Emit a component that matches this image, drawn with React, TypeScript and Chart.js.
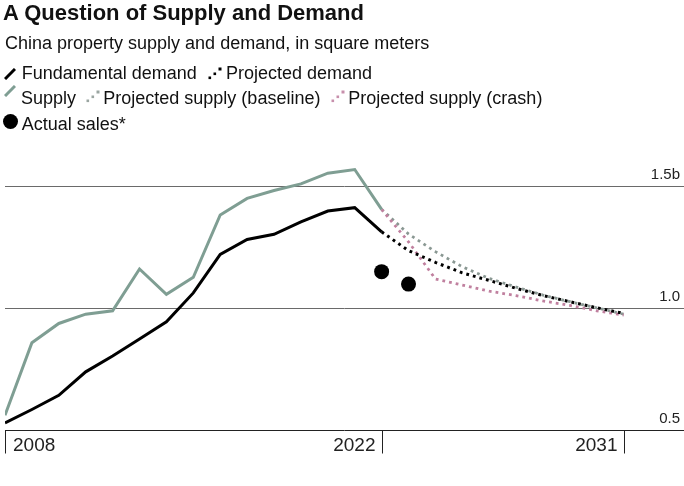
import React, { useEffect, useRef } from "react";
import { Chart, registerables } from "chart.js";

Chart.register(...registerables);

// ---- data ----
const histYears = [2008, 2009, 2010, 2011, 2012, 2013, 2014, 2015, 2016, 2017, 2018, 2019, 2020, 2021, 2022];
const supply = [0.56, 0.857, 0.936, 0.974, 0.988, 1.159, 1.055, 1.125, 1.38, 1.448, 1.48, 1.507, 1.551, 1.566, 1.403];
const demand = [0.529, 0.584, 0.642, 0.738, 0.803, 0.872, 0.943, 1.061, 1.219, 1.28, 1.301, 1.352, 1.396, 1.41, 1.311];

const projYears = [2022, 2023, 2024, 2025, 2026, 2027, 2028, 2029, 2030, 2031];
const projDemand = [1.311, 1.234, 1.186, 1.143, 1.112, 1.08, 1.05, 1.025, 1.0, 0.977];
const projSupplyBaseline = [1.403, 1.302, 1.23, 1.168, 1.12, 1.085, 1.052, 1.025, 1.0, 0.974];
const projSupplyCrash = [1.403, 1.27, 1.118, 1.093, 1.068, 1.05, 1.028, 1.01, 0.988, 0.97];

const salesYears = [2022, 2023];
const actualSales = [1.148, 1.097];

const yGridValues = [0.5, 1.0, 1.5];
const yTickLabels = ["0.5", "1.0", "1.5b"];
const xTickYears = [2008, 2022, 2031];
const xTickLabels = ["2008", "2022", "2031"];

const FONT = '"Liberation Sans", Arial, Helvetica, sans-serif';

const pts = (xs: number[], ys: number[]) => xs.map((x, i) => ({ x, y: ys[i] }));

const axesPlugin = {
  id: "customAxes",
  beforeDatasetsDraw(chart: any) {
    const { ctx, chartArea, scales } = chart;
    const x = scales.x;
    const y = scales.y;
    ctx.save();
    yGridValues.forEach((v, i) => {
      const py = Math.round(y.getPixelForValue(v)) + 0.5;
      ctx.strokeStyle = i === 0 ? "#222" : "#6a6a6a";
      ctx.lineWidth = 1;
      ctx.beginPath();
      ctx.moveTo(chartArea.left, py);
      ctx.lineTo(chartArea.right, py);
      ctx.stroke();
      ctx.font = `15px ${FONT}`;
      ctx.fillStyle = "#222";
      ctx.textAlign = "right";
      ctx.textBaseline = "alphabetic";
      ctx.fillText(yTickLabels[i], chartArea.right - 4, py - 7.5);
    });
    const base = Math.round(y.getPixelForValue(yGridValues[0])) + 0.5;
    xTickYears.forEach((yr, i) => {
      const px = Math.round(x.getPixelForValue(yr)) + 0.5;
      ctx.strokeStyle = "#222";
      ctx.lineWidth = 1;
      ctx.beginPath();
      ctx.moveTo(px, base);
      ctx.lineTo(px, base + 23);
      ctx.stroke();
      ctx.font = `19px ${FONT}`;
      ctx.fillStyle = "#222";
      ctx.textBaseline = "alphabetic";
      if (i === 0) {
        ctx.textAlign = "left";
        ctx.fillText(xTickLabels[i], px + 7.5, base + 20.5);
      } else {
        ctx.textAlign = "right";
        ctx.fillText(xTickLabels[i], px - 7, base + 20.5);
      }
    });
    ctx.restore();
  },
};

const DOT_DASH = [2.8, 4];

function SolidIcon({ color }: { color: string }) {
  return (
    <svg width="12" height="12" style={{ display: "block" }}>
      <line x1="1" y1="11" x2="11" y2="1" stroke={color} strokeWidth="3" />
    </svg>
  );
}

function DotIcon({ color }: { color: string }) {
  return (
    <svg width="14" height="13" style={{ display: "block" }}>
      <rect x="0.5" y="9.5" width="2.6" height="2.6" fill={color} />
      <rect x="5.5" y="5.5" width="2.6" height="2.6" fill={color} />
      <rect x="10.5" y="0.5" width="3" height="3" fill={color} />
    </svg>
  );
}

const textStyle = (left: number, top: number, size = 18, weight: any = "normal"): React.CSSProperties => ({
  position: "absolute",
  left,
  top,
  fontSize: size,
  lineHeight: `${size}px`,
  fontWeight: weight,
  color: "#111",
  whiteSpace: "nowrap",
  fontFamily: FONT,
});

export default function App() {
  const ref = useRef<HTMLCanvasElement>(null);

  useEffect(() => {
    if (!ref.current) return;
    const chart = new Chart(ref.current, {
      type: "line",
      data: {
        datasets: [
          {
            label: "Actual sales*",
            data: pts(salesYears, actualSales),
            showLine: false,
            pointRadius: 7.5,
            pointHoverRadius: 7.5,
            pointBackgroundColor: "#000",
            pointBorderWidth: 0,
            borderColor: "#000",
            order: 0,
          },
          {
            label: "Fundamental demand",
            data: pts(histYears, demand),
            borderColor: "#000",
            borderWidth: 3,
            pointRadius: 0,
            order: 1,
          },
          {
            label: "Projected demand",
            data: pts(projYears, projDemand),
            borderColor: "#000",
            borderWidth: 3,
            borderDash: DOT_DASH,
            borderCapStyle: "butt",
            pointRadius: 0,
            order: 2,
          },
          {
            label: "Supply",
            data: pts(histYears, supply),
            borderColor: "#7f9e93",
            borderWidth: 3,
            pointRadius: 0,
            order: 3,
          },
          {
            label: "Projected supply (crash)",
            data: pts(projYears, projSupplyCrash),
            borderColor: "#c0809f",
            borderWidth: 2.8,
            borderDash: DOT_DASH,
            borderCapStyle: "butt",
            pointRadius: 0,
            order: 4,
          },
          {
            label: "Projected supply (baseline)",
            data: pts(projYears, projSupplyBaseline),
            borderColor: "#8a9893",
            borderWidth: 2.8,
            borderDash: DOT_DASH,
            borderCapStyle: "butt",
            pointRadius: 0,
            order: 5,
          },
        ],
      },
      options: {
        animation: false,
        responsive: false,
        events: [],
        layout: { autoPadding: false, padding: { left: 5, right: 0, top: 149, bottom: 56 } },
        plugins: {
          legend: { display: false },
          tooltip: { enabled: false },
          title: { display: false },
        },
        elements: { line: { tension: 0 } },
        scales: {
          x: { type: "linear", min: 2008, max: 2033.24, display: false },
          y: { type: "linear", min: 0.5, max: 1.65, display: false },
        },
      },
      plugins: [axesPlugin],
    } as any);
    return () => chart.destroy();
  }, []);

  return (
    <div
      style={{
        position: "absolute",
        left: 0,
        top: 0,
        width: 684,
        height: 486,
        background: "#fff",
        overflow: "hidden",
        fontFamily: FONT,
      }}
    >
      <canvas
        ref={ref}
        width={684}
        height={486}
        style={{ position: "absolute", left: 0, top: 0, width: 684, height: 486 }}
      />
      <div style={textStyle(3, 2.4, 22, "bold")}>A Question of Supply and Demand</div>
      <div style={textStyle(5, 34)}>China property supply and demand, in square meters</div>

      <div style={{ position: "absolute", left: 4, top: 68 }}><SolidIcon color="#000" /></div>
      <div style={textStyle(21.7, 64.3)}>Fundamental demand</div>
      <div style={{ position: "absolute", left: 208, top: 67 }}><DotIcon color="#000" /></div>
      <div style={textStyle(226, 64.3)}>Projected demand</div>

      <div style={{ position: "absolute", left: 4, top: 85 }}><SolidIcon color="#7f9e93" /></div>
      <div style={textStyle(21, 89.3)}>Supply</div>
      <div style={{ position: "absolute", left: 86, top: 90 }}><DotIcon color="#9aa5a1" /></div>
      <div style={textStyle(103.3, 89.3)}>Projected supply (baseline)</div>
      <div style={{ position: "absolute", left: 331, top: 90 }}><DotIcon color="#c78fac" /></div>
      <div style={textStyle(348.3, 89.3)}>Projected supply (crash)</div>

      <div
        style={{
          position: "absolute",
          left: 3.3,
          top: 113.5,
          width: 15,
          height: 15,
          borderRadius: "50%",
          background: "#000",
        }}
      />
      <div style={textStyle(21.7, 114.8)}>Actual sales*</div>
    </div>
  );
}
